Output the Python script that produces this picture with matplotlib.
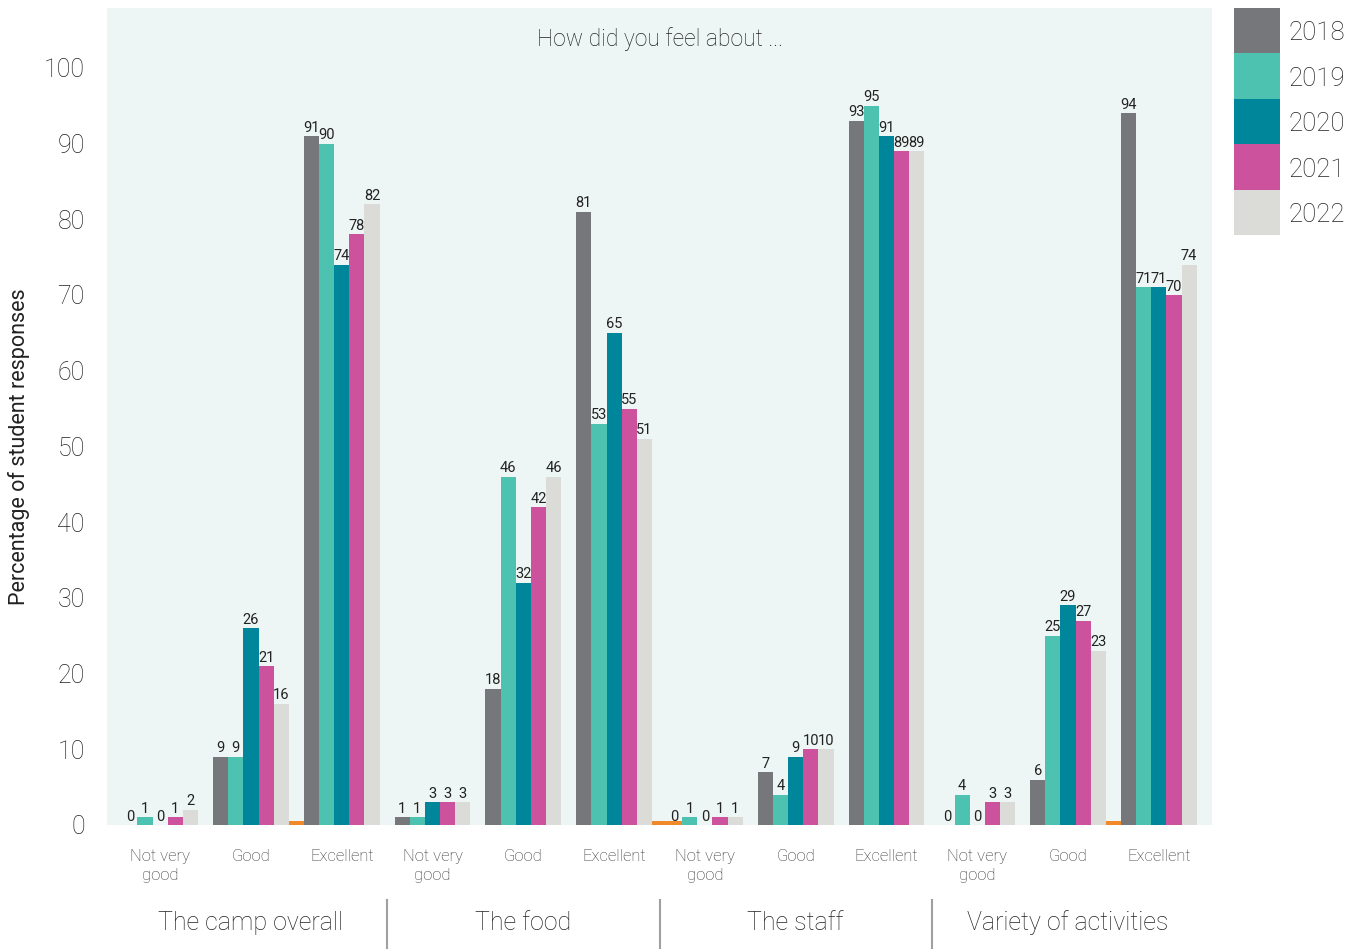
import numpy as np
import matplotlib
matplotlib.use("Agg")
import matplotlib.pyplot as plt
from matplotlib.patches import Rectangle

plt.rcParams['font.family'] = ['Roboto', 'DejaVu Sans']
plt.rcParams['font.weight'] = 'light'

# survey results, % of students per answer
topics = ["The camp overall", "The food", "The staff", "Variety of activities"]
answers = ["Not very\ngood", "Good", "Excellent"]
years = ["2018", "2019", "2020", "2021", "2022"]
colors = ["#76777b", "#4ec2b0", "#00869a", "#cc529e", "#dbdbd7"]

camp = [[0, 9, 91], [1, 9, 90], [0, 26, 74], [1, 21, 78], [2, 16, 82]]
food = [[1, 18, 81], [1, 46, 53], [3, 32, 65], [3, 42, 55], [3, 46, 51]]
staff = [[0, 7, 93], [1, 4, 95], [0, 9, 91], [1, 10, 89], [1, 10, 89]]
variety = [[0, 6, 94], [4, 25, 71], [0, 29, 71], [3, 27, 70], [3, 23, 74]]

# small orange stubs sitting in the gaps between some groups
stub_pos = [1.5, 5.5, 5.667, 10.5]
stub_val = [0.5, 0.5, 0.5, 0.5]

values = np.hstack([np.array(camp), np.array(food), np.array(staff), np.array(variety)])
n_groups = values.shape[1]
x = np.arange(n_groups)
w = 1 / 6

fig = plt.figure(figsize=(13.57, 9.49), dpi=100)
ax = fig.add_axes([0.0789, 0.1307, 0.8142, 0.8609])
ax.set_facecolor("#edf6f4")

for i, year in enumerate(years):
    pos = x + (i - 2) * w
    ax.bar(pos, values[i], width=w, color=colors[i], linewidth=0)
    for p, v in zip(pos, values[i]):
        ax.annotate(str(v), (p, v), xytext=(0, 1), textcoords="offset points",
                    ha="center", va="bottom", fontsize=10.5, fontweight="normal",
                    color="#222222")

ax.bar(stub_pos, stub_val, width=w, color="#f0892a", linewidth=0)

ax.set_xlim(-0.585, n_groups - 0.415)
ax.set_ylim(0, 107.9)
ax.set_yticks(np.arange(0, 101, 10))
ax.set_xticks(x)
ax.set_xticklabels(answers * len(topics), fontsize=12, color="#333333", linespacing=1.4)
ax.tick_params(axis="x", length=0, pad=17)
ax.tick_params(axis="y", length=0, pad=16, labelsize=18, labelcolor="#222222")
for s in ax.spines.values():
    s.set_visible(False)

ax.set_ylabel("Percentage of student responses", fontsize=15.5, color="#222222")
ax.yaxis.set_label_coords(-0.070, 0.463)

ax.text(0.5, 0.962, "How did you feel about ...", transform=ax.transAxes,
        ha="center", va="center", fontsize=16.5, color="#222222")

# topic names under each block of three, with dividers
trans = ax.get_xaxis_transform()
for k, t in enumerate(topics):
    ax.text(3 * k + 1, -0.12, t, transform=trans, ha="center", va="center",
            fontsize=18, color="#222222")
    if k > 0:
        ax.plot([3 * k - 0.5] * 2, [-0.092, -0.152], transform=trans,
                color="#a0a0a0", linewidth=1.5, clip_on=False)

# legend as stacked colour blocks on the right
for i, year in enumerate(years):
    y0 = 1 - (8 + 45.4 * (i + 1)) / 949
    fig.add_artist(Rectangle((1234 / 1357, y0), 46 / 1357, 45.4 / 949,
                             transform=fig.transFigure, color=colors[i], linewidth=0))
    fig.text(1289 / 1357, y0 + 20 / 949, year, ha="left", va="center",
             fontsize=18.5, color="#222222")

fig.savefig("out.png", dpi=100)
